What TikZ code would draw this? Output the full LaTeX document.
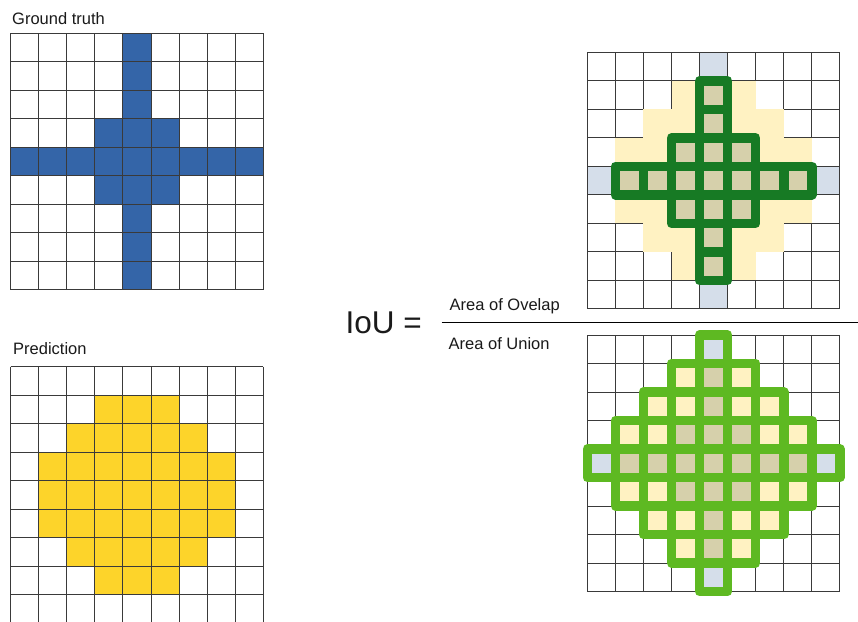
\documentclass[tikz,border=0pt]{standalone}
\usepackage{fontspec}
\setmainfont{Liberation Sans}
\definecolor{gtblue}{HTML}{3465A8}
\definecolor{predyel}{HTML}{FDD42A}
\definecolor{paleyel}{HTML}{FFF2C2}
\definecolor{paleblue}{HTML}{D5DEEA}
\definecolor{tanc}{HTML}{D6D0AB}
\definecolor{dkgreen}{HTML}{177A24}
\definecolor{ltgreen}{HTML}{5EB922}
\definecolor{gridc}{HTML}{3A3A3A}
\definecolor{txtc}{HTML}{1A1A1A}
\def\cw{28.07}
\def\ch{28.5}
\newcommand\classify[2]{%
  \pgfmathtruncatemacro\isgt{(#2==4)||(#1==4)||(((#1==3)||(#1==5))&&(#2>=3)&&(#2<=5))}%
  \pgfmathtruncatemacro\ispr{(#1>=1)&&(#1<=7)&&(abs(#2-4)<=3-max(0,abs(#1-4)-1))}%
}
\newcommand\drawgrid[2]{%
  \foreach \i in {0,...,9}{
    \draw[gridline] ({#1+\i*\cw},{#2}) -- ++(0,{9*\ch});
    \draw[gridline] ({#1},{#2+\i*\ch}) -- ++({9*\cw},0);
  }%
}
\begin{document}
\begin{tikzpicture}[x=1pt,y=-1pt,
  gridline/.style={gridc,line width=1pt},
  txt/.style={inner sep=0pt,anchor=base west,text=txtc,font=\fontsize{16.5}{18}\selectfont},
  bigtxt/.style={inner sep=0pt,anchor=base west,text=txtc,font=\fontsize{31.5}{34}\selectfont},
  ovcell/.style={draw=dkgreen,line width=9.5pt,line join=round,fill=tanc},
  uncell/.style={draw=ltgreen,line width=9.5pt,line join=round},
  fracline/.style={black,line width=1.6pt}]
\useasboundingbox (0,0) rectangle (858,621);
\fill[white] (0,0) rectangle (858,621);

% ---------- Ground truth (top left)
\def\X{10.7}\def\Y{33.3}
\foreach \r in {0,...,8}{\foreach \c in {0,...,8}{
  \classify{\r}{\c}
  \ifnum\isgt=1 \fill[gtblue] ({\X+\c*\cw},{\Y+\r*\ch}) rectangle ++(\cw,\ch);\fi
}}
\drawgrid{10.7}{33.3}

% ---------- Prediction (bottom left)
\def\X{10.7}\def\Y{366.7}
\foreach \r in {0,...,8}{\foreach \c in {0,...,8}{
  \classify{\r}{\c}
  \ifnum\ispr=1 \fill[predyel] ({\X+\c*\cw},{\Y+\r*\ch}) rectangle ++(\cw,\ch);\fi
}}
\drawgrid{10.7}{366.7}

% ---------- Overlap (top right)
\def\X{587.3}\def\Y{52.3}
\foreach \r in {0,...,8}{\foreach \c in {0,...,8}{
  \classify{\r}{\c}
  \ifnum\isgt=1 \ifnum\ispr=0 \fill[paleblue] ({\X+\c*\cw},{\Y+\r*\ch}) rectangle ++(\cw,\ch);\fi\fi
}}
\drawgrid{587.3}{52.3}
\foreach \r in {0,...,8}{\foreach \c in {0,...,8}{
  \classify{\r}{\c}
  \ifnum\ispr=1 \ifnum\isgt=0 \fill[paleyel] ({\X+\c*\cw},{\Y+\r*\ch}) rectangle ++(\cw,\ch);\fi\fi
}}
\foreach \r in {0,...,8}{\foreach \c in {0,...,8}{
  \classify{\r}{\c}
  \ifnum\ispr=1 \ifnum\isgt=1 \path[ovcell] ({\X+\c*\cw},{\Y+\r*\ch}) rectangle ++(\cw,\ch);\fi\fi
}}

% ---------- Union (bottom right)
\def\X{587.3}\def\Y{335}
\drawgrid{587.3}{335}
\foreach \r in {0,...,8}{\foreach \c in {0,...,8}{
  \classify{\r}{\c}
  \pgfmathtruncatemacro\kind{\isgt+2*\ispr}
  \ifcase\kind\relax
  \or \path[uncell,fill=paleblue] ({\X+\c*\cw},{\Y+\r*\ch}) rectangle ++(\cw,\ch);
  \or \path[uncell,fill=paleyel] ({\X+\c*\cw},{\Y+\r*\ch}) rectangle ++(\cw,\ch);
  \or \path[uncell,fill=tanc] ({\X+\c*\cw},{\Y+\r*\ch}) rectangle ++(\cw,\ch);
  \fi
}}

% ---------- Texts and fraction
\node[txt] (gtlabel) at (12,24) {Ground truth};
\node[txt] (prlabel) at (13,354) {Prediction};
\node[bigtxt] (iou) at (345.5,333.3) {IoU =};
\node[txt] (ovlabel) at (449.5,310.5) {Area of Ovelap};
\node[txt] (unlabel) at (448.5,349) {Area of Union};
\coordinate (fracL) at (441.7,322.3);
\coordinate (fracR) at (858,322.3);
\draw[fracline] (fracL) -- (fracR);
\end{tikzpicture}
\end{document}
